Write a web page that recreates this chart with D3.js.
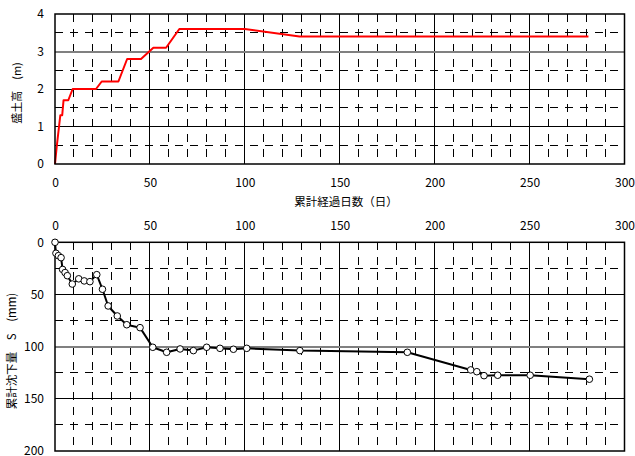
<!DOCTYPE html>
<html><head><meta charset="utf-8">
<script src="https://cdn.jsdelivr.net/npm/d3@7"></script>
<style>body{margin:0;background:#fff} svg{display:block}</style>
</head><body><svg id="c" width="635" height="456"></svg>
<script>
// ---- data ----
const fillDays   = [0, 0.9, 2.8, 3.8, 4.5, 7, 9.3, 21.6, 24.6, 33.4, 38, 45.3, 51.8, 58.5, 65.5, 100, 128.8, 281];
const fillHeight = [0, 0.46, 1.3, 1.3, 1.7, 1.7, 2.0, 2.0, 2.2, 2.2, 2.8, 2.8, 3.1, 3.1, 3.6, 3.6, 3.4, 3.4];
const settleDays   = [0, 0.5, 1.8, 3.2, 4, 5.3, 6.5, 9.1, 12.5, 15.4, 18.4, 22, 25, 28, 32.8, 37.8, 44.8, 51.5, 58.8, 65.9, 72.9, 79.9, 86.9, 94, 101, 129, 185.6, 219, 222.2, 226, 233.2, 250.3, 281.5];
const settleValues = [0, 10.5, 12.8, 14.7, 26, 29, 32, 40, 35, 37, 37.7, 31, 45, 61, 70.6, 79, 81.8, 100.6, 105.4, 102.2, 103.8, 100.6, 101.6, 102.5, 101.6, 103.8, 105.4, 122.3, 124, 127.8, 127.4, 127.4, 131.2];
const dayTicks = [0, 50, 100, 150, 200, 250, 300];
const heightTicks = [0, 1, 2, 3, 4];
const settleTicks = [0, 50, 100, 150, 200];
const xTitle = "累計経過日数（日）";
const topTitle = "盛土高　(m)";
const botTitle = "累計沈下量　S　(mm)";

const svg = d3.select("#c");
const FONT = "'Noto Sans CJK JP', sans-serif";
const L = 55, R = 624.5;

const x = d3.scaleLinear().domain([0, 300]).range([L, R]);
const yTop = d3.scaleLinear().domain([0, 4]).range([164, 14]);
const yBot = d3.scaleLinear().domain([0, 200]).range([242.3, 451]);

function grid(g, yScale, yMajor, yMinor, specialY) {
  const [y0, y1] = yScale.range();
  const yTopPx = Math.min(y0, y1), yBotPx = Math.max(y0, y1);
  const minorX = d3.range(10, 300, 10).filter(v => v % 50 !== 0);
  // dashed minor
  g.selectAll(".mvx").data(minorX).enter().append("line")
    .attr("x1", d => x(d)).attr("x2", d => x(d)).attr("y1", yTopPx).attr("y2", yBotPx)
    .attr("stroke", "#000").attr("stroke-width", 1).attr("stroke-dasharray", "8,7").attr("shape-rendering", "crispEdges");
  g.selectAll(".mhy").data(yMinor).enter().append("line")
    .attr("x1", L).attr("x2", R).attr("y1", d => yScale(d)).attr("y2", d => yScale(d))
    .attr("stroke", "#000").attr("stroke-width", 1).attr("stroke-dasharray", "8,7").attr("shape-rendering", "crispEdges");
  // solid major
  g.selectAll(".Mx").data([50, 100, 150, 200, 250]).enter().append("line")
    .attr("x1", d => x(d)).attr("x2", d => x(d)).attr("y1", yTopPx).attr("y2", yBotPx)
    .attr("stroke", "#000").attr("stroke-width", 1).attr("shape-rendering", "crispEdges");
  g.selectAll(".My").data(yMajor).enter().append("line")
    .attr("x1", L).attr("x2", R).attr("y1", d => yScale(d)).attr("y2", d => yScale(d))
    .attr("stroke", d => d === specialY ? "#808080" : "#000")
    .attr("stroke-width", d => d === specialY ? 2 : 1).attr("shape-rendering", "crispEdges");
}

// ---- top chart ----
const gt = svg.append("g");
grid(gt, yTop, [1, 2, 3], [0.5, 1.5, 2.5, 3.5], 3);
const fillPts = fillDays.map((d, i) => [d, fillHeight[i]]);
gt.append("path").datum(fillPts)
  .attr("d", d3.line().x(d => x(d[0])).y(d => yTop(d[1])))
  .attr("fill", "none").attr("stroke", "#ff0000").attr("stroke-width", 2).attr("stroke-linejoin", "round");
gt.append("rect").attr("x", L).attr("y", 14).attr("width", R - L).attr("height", 150)
  .attr("fill", "none").attr("stroke", "#000").attr("stroke-width", 1.5);

gt.append("g").attr("transform", "translate(0,164)")
  .call(d3.axisBottom(x).tickValues(dayTicks).tickSize(0).tickPadding(14).tickFormat(d3.format("d")));
gt.append("g").attr("transform", `translate(${L},0)`)
  .call(d3.axisLeft(yTop).tickValues(heightTicks).tickSize(0).tickPadding(11).tickFormat(d3.format("d")));

gt.append("text").attr("x", 346).attr("y", 206).attr("text-anchor", "middle")
  .attr("font-size", 11.5).attr("font-family", FONT).text(xTitle);
gt.append("text").attr("transform", "translate(21,93) rotate(-90)").attr("text-anchor", "middle")
  .attr("font-size", 11).attr("font-family", FONT).attr("xml:space", "preserve").text(topTitle);

// ---- bottom chart ----
const gb = svg.append("g");
grid(gb, yBot, [50, 100, 150], [25, 75, 125, 175], 100);
const setPts = settleDays.map((d, i) => [d, settleValues[i]]);
gb.append("path").datum(setPts)
  .attr("d", d3.line().x(d => x(d[0])).y(d => yBot(d[1])))
  .attr("fill", "none").attr("stroke", "#000").attr("stroke-width", 2).attr("stroke-linejoin", "round");
gb.append("rect").attr("x", L).attr("y", 242.3).attr("width", R - L).attr("height", 208.7)
  .attr("fill", "none").attr("stroke", "#000").attr("stroke-width", 1.5);
gb.selectAll("circle").data(setPts).enter().append("circle")
  .attr("cx", d => x(d[0])).attr("cy", d => yBot(d[1])).attr("r", 3.3)
  .attr("fill", "#fff").attr("stroke", "#000").attr("stroke-width", 1);

gb.append("g").attr("transform", "translate(0,242.3)")
  .call(d3.axisTop(x).tickValues(dayTicks).tickSize(0).tickPadding(12).tickFormat(d3.format("d")));
gb.append("g").attr("transform", `translate(${L},0)`)
  .call(d3.axisLeft(yBot).tickValues(settleTicks).tickSize(0).tickPadding(11).tickFormat(d3.format("d")));

gb.append("text").attr("transform", "translate(16,351) rotate(-90)").attr("text-anchor", "middle")
  .attr("font-size", 11.5).attr("font-family", FONT).attr("xml:space", "preserve").text(botTitle);

svg.selectAll(".domain").remove();
svg.selectAll(".tick text").attr("font-size", 12).attr("font-family", FONT).attr("fill", "#000");
</script></body></html>
